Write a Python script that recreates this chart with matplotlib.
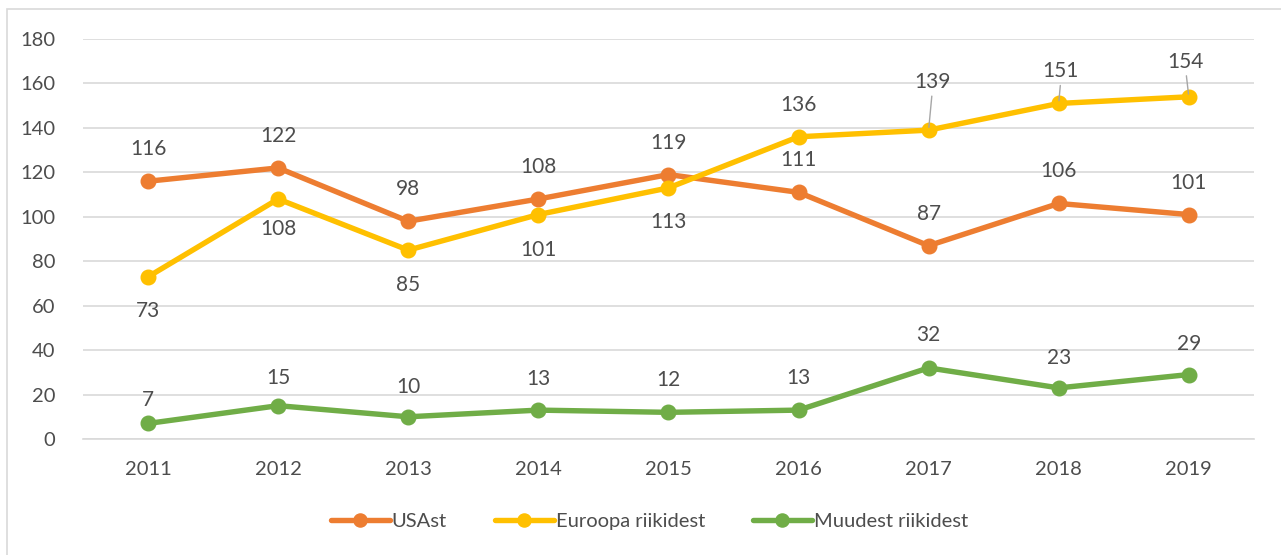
import matplotlib
matplotlib.use('Agg')
import matplotlib.pyplot as plt
from matplotlib.patches import Rectangle

years = ['2011', '2012', '2013', '2014', '2015', '2016', '2017', '2018', '2019']
usa = [116, 122, 98, 108, 119, 111, 87, 106, 101]
europe = [73, 108, 85, 101, 113, 136, 139, 151, 154]
other = [7, 15, 10, 13, 12, 13, 32, 23, 29]
names = ['USAst', 'Euroopa riikidest', 'Muudest riikidest']
yticks = [0, 20, 40, 60, 80, 100, 120, 140, 160, 180]

colors = ['#ED7D31', '#FFC000', '#70AD47']
txt = '#4D4D4D'
plt.rcParams['font.family'] = ['Lato', 'DejaVu Sans']

fig = plt.figure(figsize=(12.81, 5.55), dpi=100)
ax = fig.add_axes([0.0648, 0.209, 0.914, 0.7207])
fig.patches.append(Rectangle((7 / 1281, -0.1), 1.2, 1 - 9 / 555 + 0.1, transform=fig.transFigure,
                             fill=False, edgecolor='#D9D9D9', linewidth=1.2))

x = list(range(len(years)))
for vals, c, n in zip([usa, europe, other], colors, names):
    ax.plot(x, vals, color=c, lw=3.9, marker='o', ms=10.5, label=n, solid_capstyle='round', zorder=3)

# label placement: px offset from the point (dy positive = up)
pos = {
    0: [32] * 9,
    1: [-34, -30, -35, -35, -34, 32, 48, 32, 35],
    2: [23, 28, 30, 31, 32, 32, 33, 30, 31],
}
shift = {(1, 6): 4, (1, 7): 2, (1, 8): -3}
leaders = {(1, 6), (1, 7), (1, 8)}
pt = 72 / 100
for si, vals in enumerate([usa, europe, other]):
    for i, v in enumerate(vals):
        dy = pos[si][i]
        dx = shift.get((si, i), 0)
        ax.annotate(str(v), (i, v), xytext=(dx * pt, dy * pt), textcoords='offset points',
                    ha='center', va='center', fontsize=15, color=txt, zorder=5)
        if (si, i) in leaders:
            ax.annotate('', (i, v), xytext=(dx * pt * 0.8, (dy - 14) * pt), textcoords='offset points',
                        arrowprops=dict(arrowstyle='-', color='#A6A6A6', lw=1, shrinkA=0, shrinkB=2),
                        zorder=4)

ax.set_xlim(-0.5, len(years) - 0.5)
ax.set_ylim(0, 180)
ax.set_yticks(yticks)
ax.set_xticks(x)
ax.set_xticklabels(years)
ax.grid(axis='y', color='#D9D9D9', lw=1.2)
ax.set_axisbelow(True)
for s in ['top', 'right', 'left']:
    ax.spines[s].set_visible(False)
ax.spines['bottom'].set_color('#D9D9D9')
ax.spines['bottom'].set_linewidth(1.2)
ax.tick_params(length=0, labelsize=14.5, labelcolor=txt)
ax.tick_params(axis='x', pad=16)
ax.tick_params(axis='y', pad=20)

leg = fig.legend(loc='center', bbox_to_anchor=(0.507, 1 - 521 / 555), ncol=3, frameon=False,
                 fontsize=14.5, handlelength=2.9, handletextpad=0.1, columnspacing=2.4,
                 markerscale=0.9)
for t in leg.get_texts():
    t.set_color(txt)

fig.savefig('out.png', dpi=100)
